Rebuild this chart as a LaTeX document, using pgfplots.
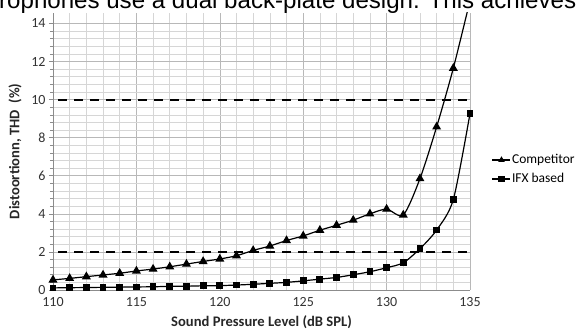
\documentclass[border=0pt]{standalone}
\usepackage{pgfplots}
\pgfplotsset{compat=1.18}
\usepackage{fontspec}
\setmainfont{Carlito}
\newfontfamily\arialf{Liberation Sans}
\begin{document}
\begin{tikzpicture}[x=1pt,y=1pt]
\useasboundingbox (0,0) rectangle (579,332);
\node[overlay, anchor=base west, inner sep=0, font=\arialf\fontsize{24.1}{28}\selectfont] at (-1,323.3) {rophones use a dual back-plate design. This achieves};
\begin{axis}[
  at={(53pt,42pt)}, anchor=south west,
  scale only axis, width=417pt, height=277pt,
  xmin=110, xmax=135, ymin=0, ymax=14.55,
  xtick={110,115,...,135}, ytick={0,2,...,14},
  minor x tick num=4, minor y tick num=4,
  grid=both,
  major grid style={draw=black!28, line width=0.6pt},
  minor grid style={draw=black!16, line width=0.6pt},
  axis x line*=bottom, axis y line*=left,
  axis line style={draw=black!45, line width=0.7pt},
  tick align=outside,
  major tick length=4pt, minor tick length=3pt,
  every tick/.style={draw=black!45, line width=0.6pt},
  every minor x tick/.style={draw=none},
  every major x tick/.style={draw=none},
  /pgf/number format/assume math mode=true,
  ticklabel style={font=\fontsize{14}{16}\selectfont, text=black!80},
  xlabel={Sound Pressure Level (dB SPL)},
  ylabel={Distoortionn, THD\ \ (\%)},
  every axis x label/.style={at={(axis description cs:0.5,0)}, anchor=center, yshift=-32pt, font=\fontsize{14.6}{16}\selectfont\bfseries, text=black!85},
  every axis y label/.style={at={(axis description cs:0,0.5)}, xshift=-38pt, rotate=90, anchor=center, font=\fontsize{14.6}{16}\selectfont\bfseries, text=black!85},
  legend style={draw=none, fill=none, at={(axis description cs:1.052,0.435)}, anchor=west,
    font=\fontsize{13.5}{15}\selectfont, row sep=6pt, inner sep=0pt,
    nodes={inner sep=1pt}},
  legend cell align=left,
  legend image code/.code={\draw[mark repeat=2,mark phase=2,#1,mark size=2.6pt] plot coordinates {(0pt,0pt)(9pt,0pt)(18pt,0pt)};},
  clip=true,
]
\addplot[black, line width=1.9pt, dash pattern=on 9pt off 7pt, forget plot] coordinates {(110.3,10)(135,10)};
\addplot[black, line width=1.9pt, dash pattern=on 9pt off 7pt, forget plot] coordinates {(110.3,2)(135,2)};
\addplot[black, line width=1.2pt, smooth, tension=0.45, mark=triangle*, mark size=4pt, mark options={solid}] coordinates {
(110,0.53)(111,0.61)(112,0.70)(113,0.79)(114,0.88)(115,1.00)(116,1.10)(117,1.22)(118,1.36)(119,1.50)
(120,1.63)(121,1.80)(122,2.08)(123,2.31)(124,2.60)(125,2.84)(126,3.14)(127,3.40)(128,3.67)(129,4.00)
(130,4.25)(131,3.94)(132,5.85)(133,8.57)(134,11.65)(135,15.2)};
\addlegendentry{Competitor}
\addplot[black, line width=1.2pt, smooth, tension=0.45, mark=square*, mark size=2.8pt, mark options={solid}] coordinates {
(110,0.11)(111,0.12)(112,0.13)(113,0.14)(114,0.15)(115,0.16)(116,0.17)(117,0.19)(118,0.20)(119,0.22)
(120,0.23)(121,0.26)(122,0.30)(123,0.35)(124,0.40)(125,0.48)(126,0.57)(127,0.66)(128,0.80)(129,0.96)
(130,1.17)(131,1.43)(132,2.17)(133,3.15)(134,4.75)(135,9.27)};
\addlegendentry{IFX based}
\end{axis}
\end{tikzpicture}
\end{document}
